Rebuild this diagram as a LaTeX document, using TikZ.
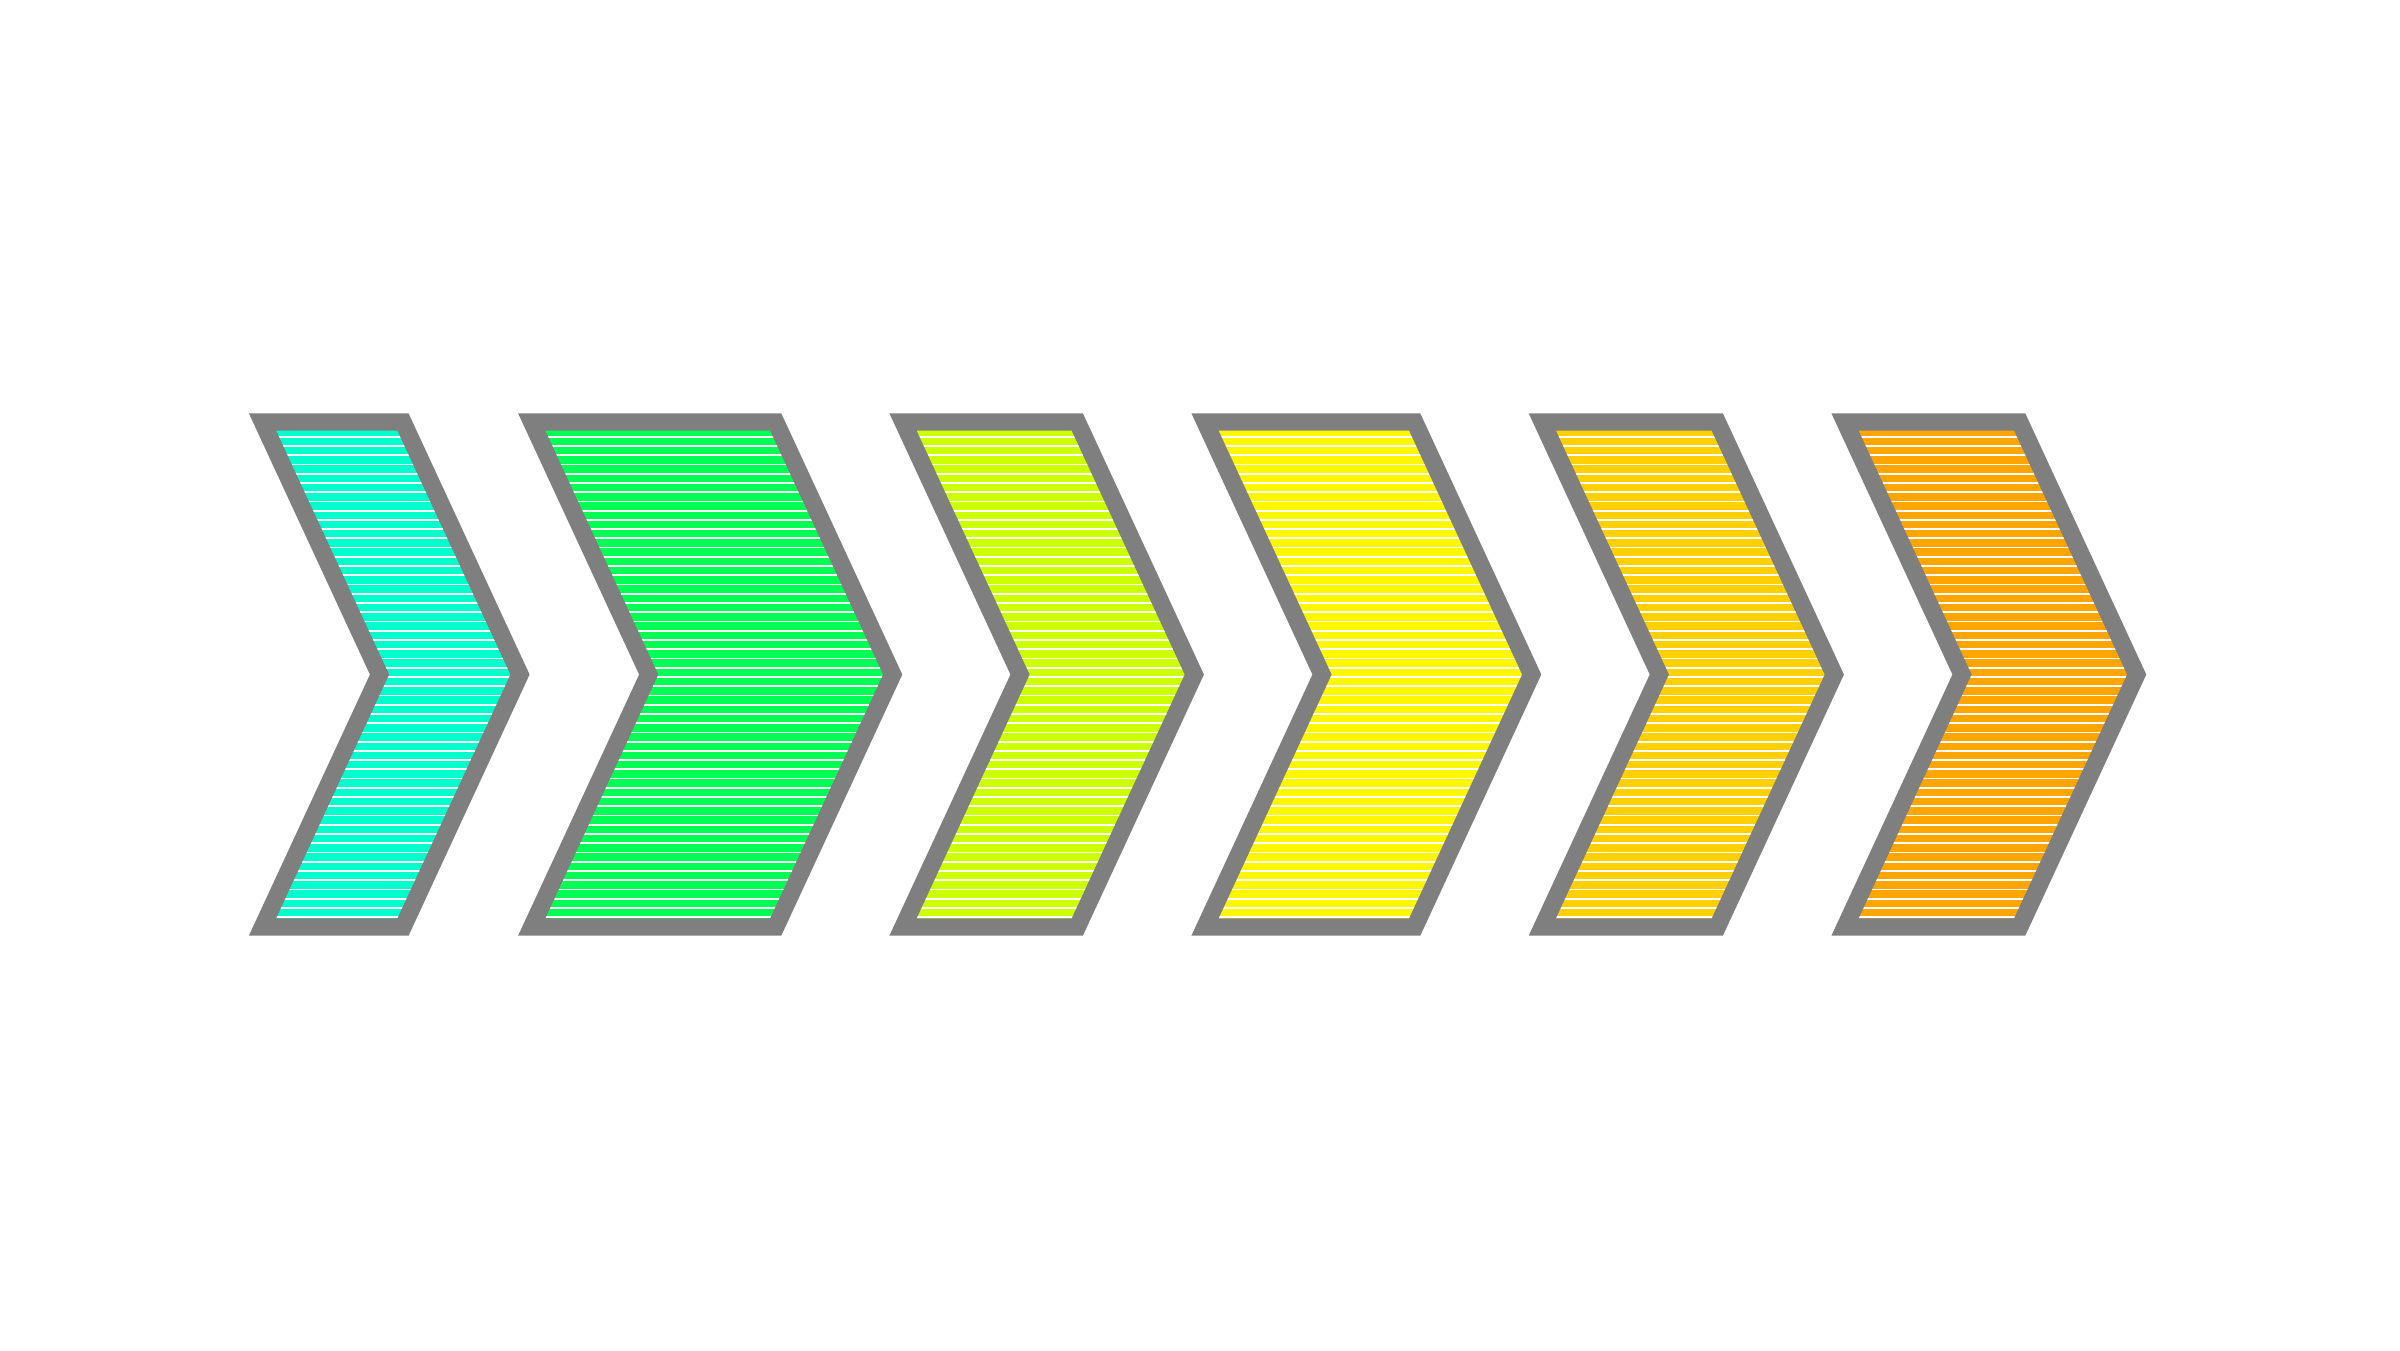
\documentclass[tikz,border=0pt]{standalone}
\definecolor{chevgray}{HTML}{7F7F7F}
\definecolor{chevcyan}{HTML}{00FFCC}
\definecolor{chevgreen}{HTML}{00FF55}
\definecolor{chevlime}{HTML}{CCFF00}
\definecolor{chevyellow}{HTML}{FFF700}
\definecolor{chevgold}{HTML}{FFD000}
\definecolor{chevorange}{HTML}{FFA500}
\tikzset{
  chevron border/.style={draw=chevgray, line width=4.95pt, line join=miter},
  chevron stripe/.style={draw=white, line width=0.5pt},
}

\begin{document}
\begin{tikzpicture}[x=0.01cm, y=-0.01cm]
    \useasboundingbox (0,0) rectangle (2400,1350);

    % left edge / top right corner of each chevron, and its colour
    \foreach \l/\r/\col in {248.5/409/chevcyan, 517.7/781.7/chevgreen,
        889/1083.3/chevlime, 1191/1420.7/chevyellow,
        1528.3/1723.3/chevgold, 1831/2025.7/chevorange}{
      \coordinate (tl) at (\l+14,422);
      \coordinate (tr) at (\r-6,422);
      \coordinate (tip) at (\r+111,674.5);
      \coordinate (br) at (\r-6,927);
      \coordinate (bl) at (\l+14,927);
      \coordinate (notch) at (\l+131,674.5);

      \begin{scope}
        \clip (tl) -- (tr) -- (tip) -- (br) -- (bl) -- (notch) -- cycle;
        \fill[\col] (\l,410) rectangle (\r+130,940);
        \foreach \y in {436.7,445.94,...,926}
          \draw[chevron stripe] (\l,\y) -- (\r+130,\y);
      \end{scope}
      \draw[chevron border] (tl) -- (tr) -- (tip) -- (br) -- (bl) -- (notch) -- cycle;
    }
\end{tikzpicture}
\end{document}
